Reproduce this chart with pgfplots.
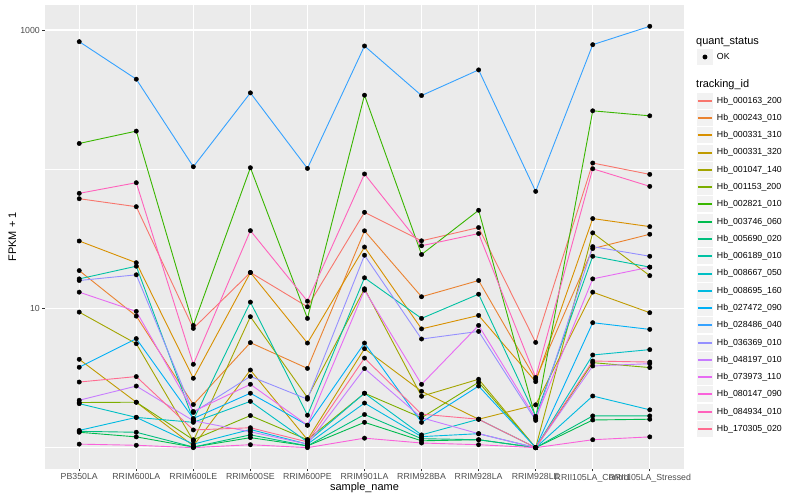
\documentclass[border=0pt]{standalone}
\usepackage{fontspec}
\setmainfont{Liberation Sans}
\usepackage{pgfplots}
\usepackage{pgfplotstable}
\pgfplotsset{compat=1.18}

% ggplot hue palette, 20 levels
\definecolor{c1}{HTML}{F8766D}
\definecolor{c2}{HTML}{EA8331}
\definecolor{c3}{HTML}{D89000}
\definecolor{c4}{HTML}{C09B00}
\definecolor{c5}{HTML}{A3A500}
\definecolor{c6}{HTML}{7CAE00}
\definecolor{c7}{HTML}{39B600}
\definecolor{c8}{HTML}{00BB4E}
\definecolor{c9}{HTML}{00BF7D}
\definecolor{c10}{HTML}{00C1A3}
\definecolor{c11}{HTML}{00BFC4}
\definecolor{c12}{HTML}{00BAE0}
\definecolor{c13}{HTML}{00B0F6}
\definecolor{c14}{HTML}{35A2FF}
\definecolor{c15}{HTML}{9590FF}
\definecolor{c16}{HTML}{C77CFF}
\definecolor{c17}{HTML}{E76BF3}
\definecolor{c18}{HTML}{FA62DB}
\definecolor{c19}{HTML}{FF62BC}
\definecolor{c20}{HTML}{FF6C91}
\definecolor{panel}{HTML}{EBEBEB}
\definecolor{keyfill}{HTML}{F2F2F2}
\definecolor{ticklab}{HTML}{4D4D4D}
\definecolor{tickcol}{HTML}{333333}

% FPKM + 1, one row per sample, one column per tracking_id
\pgfplotstableread{
x  s1    s2    s3    s4    s5    s6    s7    s8    s9    s10   s11   s12   s13   s14   s15   s16   s17   s18   s19   s20
1  61.4  18.7  30.5  4.31  9.41  2.11  153.1 1.29  1.31  16.3  2.07  1.33  3.78  824.5 15.87 2.19  13.09 1.06  67.1  2.96
2  53.8  8.81  21.3  2.12  5.58  2.12  187.8 1.195 1.29  20.1  1.65  1.65  6.07  443.2 17.44 2.77  9.52  1.04  80.0  3.24
3  7.19  2.04  3.15  1.03  1.12  1.14  7.55  1.01  1.01  1.58  1.52  1.06  1.62  104.2 1.79  1.56  1.82  1.00  3.97  1.34
4  18.12 5.68  18.1  3.61  8.72  1.70  102.5 1.18  1.235 11.1  2.15  1.35  2.46  353.5 3.25  1.30  2.85  1.05  36.2  1.39
5  10.28 3.71  5.64  1.14  2.29  1.14  8.48  1.03  1.03  1.71  1.10  1.06  1.45  101.3 2.23  1.06  1.45  1.00  11.28 1.10
6  49.0  36.1  27.6  5.14  13.84 2.46  340.3 1.52  1.73  16.6  2.46  2.09  5.64  767.9 24.1  3.70  13.53 1.17  92.4  4.40
7  30.6  12.13 7.13  2.54  2.34  1.64  24.4  1.12  1.16  8.48  1.235 1.20  1.52  338.1 6.03  1.64  2.85  1.08  28.2  1.74
8  38.1  15.87 8.91  1.60  3.10  2.95  50.7  1.14  1.14  12.66 1.60  1.26  2.77  516.8 6.84  1.26  7.55  1.05  34.5  1.60
9  5.70  3.10  2.98  2.03  1.00  1.00  1.63  1.00  1.00  1.68  1.00  1.00  1.00  69.3  1.57  1.00  1.62  1.00  3.19  1.00
10 110.8 26.9  44.2  13.09 34.9  4.08  262.7 1.58  1.69  23.7  4.63  2.35  7.90  784.5 27.8  3.86  16.3  1.14  100.8 4.19
11 91.8  34.1  38.7  9.32  17.2  3.76  241.8 1.60  1.69  19.8  5.06  1.87  7.07  1063  23.7  4.01  19.8  1.195 75.3  4.12
}\fpkm

\begin{document}
\begin{tikzpicture}
\path[use as bounding box] (0,0) rectangle (800bp,-500bp);
\begin{axis}[
  at={(45bp,-468.7bp)}, anchor=south west,
  scale only axis, width=639bp, height=463.5bp,
  ymode=log, ymin=0.706, ymax=1507,
  xmin=0.4, xmax=11.6,
  xtick={1,...,11},
  xticklabels={PB350LA,RRIM600LA,RRIM600LE,RRIM600SE,RRIM600PE,RRIM901LA,RRIM928BA,RRIM928LA,RRIM928LE,RRII105LA\_Control,RRII105LA\_Stressed},
  ytick={10,1000}, yticklabels={10,1000},
  minor ytick={1,100},
  grid=both,
  major grid style={white, line width=1.1bp},
  minor grid style={white, line width=0.55bp},
  minor tick length=0pt,
  axis line style={draw=none},
  axis background/.style={fill=panel},
  tick align=outside, major tick length=2.75bp,
  tick style={tickcol, line width=0.8bp},
  xtick pos=left, ytick pos=left,
  ticklabel style={font=\fontsize{8.8}{10}\selectfont, text=ticklab, inner sep=0pt},
  xticklabel style={yshift=-2.2bp},
  yticklabel style={xshift=-2.2bp},
  /pgf/number format/assume math mode=true,
  xlabel={sample\_name}, ylabel={FPKM + 1},
  label style={font=\fontsize{11}{13}\selectfont},
  xlabel style={at={(axis description cs:0.5,-0.0416)}, anchor=center},
  ylabel style={at={(axis description cs:-0.0509,0.5)}, anchor=center},
  legend style={at={(axis description cs:1.0203,0.8112)}, anchor=north west,
    draw=none, fill=none, inner sep=0pt, outer sep=0pt,
    /tikz/row sep=1.28bp, /tikz/column sep=4bp,
    font=\fontsize{8.8}{10}\selectfont, nodes={inner sep=0pt}},
  legend cell align=left,
  legend image code/.code={
    \fill[keyfill, draw=none] (0bp,-8bp) rectangle (16bp,8bp);
    \draw[#1, line width=2bp] (1bp,0bp) -- (15bp,0bp);
  },
]
\pgfplotsinvokeforeach{1,...,20}{
  \addplot[no marks, color=c#1, line width=0.9bp] table[x=x, y=s#1] {\fpkm};
}
\pgfplotsinvokeforeach{1,...,20}{
  \addplot[only marks, mark=*, mark size=2.2bp, black, forget plot] table[x=x, y=s#1] {\fpkm};
}
\legend{Hb\_000163\_200,Hb\_000243\_010,Hb\_000331\_310,Hb\_000331\_320,Hb\_001047\_140,
  Hb\_001153\_200,Hb\_002821\_010,Hb\_003746\_060,Hb\_005690\_020,Hb\_006189\_010,
  Hb\_008667\_050,Hb\_008695\_160,Hb\_027472\_090,Hb\_028486\_040,Hb\_036369\_010,
  Hb\_048197\_010,Hb\_073973\_110,Hb\_080147\_090,Hb\_084934\_010,Hb\_170305\_020}
\end{axis}
% second, empty axis only for the quant_status legend
\begin{axis}[
  at={(45bp,-468.7bp)}, anchor=south west,
  scale only axis, width=639bp, height=463.5bp,
  hide axis, xmin=0, xmax=1, ymin=0, ymax=1,
  legend style={at={(axis description cs:1.0203,0.9055)}, anchor=north west,
    draw=none, fill=none, inner sep=0pt, outer sep=0pt,
    /tikz/column sep=4bp,
    font=\fontsize{8.8}{10}\selectfont, nodes={inner sep=0pt}},
  legend cell align=left,
]
\addlegendimage{legend image code/.code={
    \fill[keyfill, draw=none] (0bp,-8bp) rectangle (16bp,8bp);
    \fill[black] (8bp,0bp) circle (2.2bp);}}
\addlegendentry{OK}
\end{axis}
\node[anchor=base west, inner sep=0pt, font=\fontsize{11}{13}\selectfont] at (696bp,-44bp) {quant\_status};
\node[anchor=base west, inner sep=0pt, font=\fontsize{11}{13}\selectfont] at (696bp,-87bp) {tracking\_id};
\end{tikzpicture}
\end{document}
